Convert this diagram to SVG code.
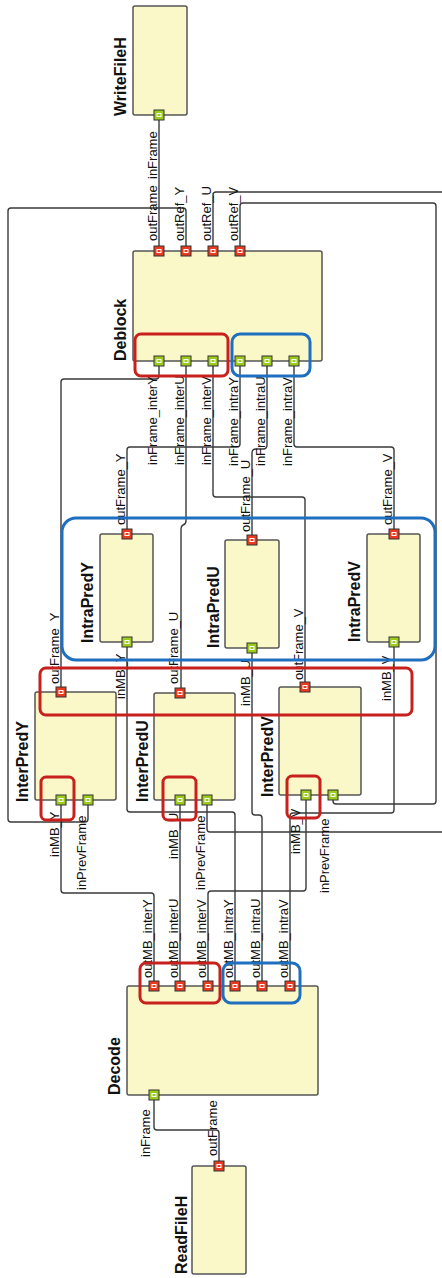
<svg xmlns="http://www.w3.org/2000/svg" width="442" height="1278" viewBox="0 0 442 1278">
<style>
.bg{fill:#ffffff}
.node{fill:#faf7c9;stroke:#555;stroke-width:1.5}
.title{font-family:"Liberation Sans",Arial,sans-serif;font-size:16px;font-weight:bold;fill:#111}
.pl{font-family:"Liberation Sans",Arial,sans-serif;font-size:13px;fill:#111}
.pin{fill:#9bcb1c;stroke:#333;stroke-width:1}
.pout{fill:#e83b1f;stroke:#333;stroke-width:1}
.mark{fill:none;stroke:#fff;stroke-width:1}
.wire{fill:none;stroke:#3a3a3a;stroke-width:1.4;stroke-linejoin:round}
.hr{fill:none;stroke:#c8201c;stroke-width:3}
.hb{fill:none;stroke:#1f6fc0;stroke-width:3}
</style>
<defs>
<g id="inport"><rect class="pin" x="-5" y="-5" width="10" height="10"/><rect class="mark" x="-2" y="-1.5" width="4" height="3"/></g>
<g id="outport"><rect class="pout" x="-5" y="-5" width="10" height="10"/><rect class="mark" x="-2" y="-1.5" width="4" height="3"/></g>
</defs>
<rect class="bg" x="0" y="0" width="442" height="1278"/>

<g id="connectors">
<path class="wire" d="M219,1166 V1133 Q219,1130 216,1130 H157 Q154,1130 154,1127 V1095"/>
<path class="wire" d="M159,251 V115"/>
<path class="wire" d="M186,251 V211 Q186,208 183,208 H11 Q8,208 8,211 V819 Q8,822 11,822 H85 Q88,822 88,819 V800"/>
<path class="wire" d="M213,251 V195 Q213,192 216,192 H442"/>
<path class="wire" d="M442,832 H210 Q207,832 207,829 V800"/>
<path class="wire" d="M240,251 V206 Q240,203 243,203 H433 Q436,203 436,206 V801 Q436,804 433,804 H336 Q333,804 333,801 V795"/>
<path class="wire" d="M154,986 V896 Q154,893 151,893 H64 Q61,893 61,890 V800"/>
<path class="wire" d="M180,986 V800"/>
<path class="wire" d="M208,986 V894 Q208,891 211,891 H303 Q306,891 306,888 V795"/>
<path class="wire" d="M235,986 V815 Q235,812 232,812 H130 Q127,812 127,809 V642"/>
<path class="wire" d="M262,986 V818 Q262,815 259,815 H255 Q252,815 252,812 V648"/>
<path class="wire" d="M290,986 V816 Q290,813 293,813 H391 Q394,813 394,810 V642"/>
<path class="wire" d="M159,361 V376 Q159,379 156,379 H64 Q61,379 61,382 V692"/>
<path class="wire" d="M186,361 V521 Q186,524 183,525 Q181,526 181,529 V693"/>
<path class="wire" d="M213,361 V494 Q213,497 216,497 H302 Q305,497 305,500 V687"/>
<path class="wire" d="M240,361 V444 Q240,447 237,447 H130 Q127,447 127,450 V534"/>
<path class="wire" d="M267,361 V445 Q267,449 263,449 H256 Q252,449 252,453 V540"/>
<path class="wire" d="M294,361 V444 Q294,447 297,447 H391 Q394,447 394,450 V534"/>
</g>

<g id="WriteFileH">
<rect class="node" x="133" y="6" width="54" height="109" rx="2"/>
<text class="title" transform="translate(126,116) rotate(-90)">WriteFileH</text>
<use href="#inport" x="159" y="115"/>
<text class="pl" transform="translate(157,179) rotate(-90)">inFrame</text>
</g>

<g id="Deblock">
<rect class="node" x="133" y="251" width="189" height="110" rx="2"/>
<text class="title" transform="translate(126,361) rotate(-90)">Deblock</text>
<use href="#outport" x="159" y="251"/>
<use href="#outport" x="186" y="251"/>
<use href="#outport" x="213" y="251"/>
<use href="#outport" x="240" y="251"/>
<use href="#inport" x="159" y="361"/>
<use href="#inport" x="186" y="361"/>
<use href="#inport" x="213" y="361"/>
<use href="#inport" x="240" y="361"/>
<use href="#inport" x="267" y="361"/>
<use href="#inport" x="294" y="361"/>
<text class="pl" transform="translate(157,241) rotate(-90)">outFrame</text>
<text class="pl" transform="translate(184,241) rotate(-90)">outRef_Y</text>
<text class="pl" transform="translate(211,241) rotate(-90)">outRef_U</text>
<text class="pl" transform="translate(238,241) rotate(-90)">outRef_V</text>
<text class="pl" transform="translate(157,465) rotate(-90)">inFrame_interY</text>
<text class="pl" transform="translate(184,465) rotate(-90)">inFrame_interU</text>
<text class="pl" transform="translate(211,465) rotate(-90)">inFrame_interV</text>
<text class="pl" transform="translate(238,466) rotate(-90)">inFrame_intraY</text>
<text class="pl" transform="translate(265,466) rotate(-90)">inFrame_intraU</text>
<text class="pl" transform="translate(292,466) rotate(-90)">inFrame_intraV</text>
</g>

<g id="IntraPredY">
<rect class="node" x="100" y="534" width="53" height="108" rx="2"/>
<text class="title" transform="translate(93,643) rotate(-90)">IntraPredY</text>
<use href="#outport" x="127" y="534"/>
<use href="#inport" x="127" y="642"/>
<text class="pl" transform="translate(125,525) rotate(-90)">outFrame_Y</text>
<text class="pl" transform="translate(125,699) rotate(-90)">inMB_Y</text>
</g>

<g id="IntraPredU">
<rect class="node" x="225" y="540" width="54" height="108" rx="2"/>
<text class="title" transform="translate(219,648) rotate(-90)">IntraPredU</text>
<use href="#outport" x="252" y="540"/>
<use href="#inport" x="252" y="648"/>
<text class="pl" transform="translate(250,532) rotate(-90)">outFrame_U</text>
<text class="pl" transform="translate(250,706) rotate(-90)">inMB_U</text>
</g>

<g id="IntraPredV">
<rect class="node" x="367" y="534" width="53" height="108" rx="2"/>
<text class="title" transform="translate(360,642) rotate(-90)">IntraPredV</text>
<use href="#outport" x="394" y="534"/>
<use href="#inport" x="394" y="642"/>
<text class="pl" transform="translate(392,525) rotate(-90)">outFrame_V</text>
<text class="pl" transform="translate(391,701) rotate(-90)">inMB_V</text>
</g>

<g id="InterPredY">
<rect class="node" x="35" y="692" width="81" height="108" rx="2"/>
<text class="title" transform="translate(28,802) rotate(-90)">InterPredY</text>
<use href="#outport" x="61" y="692"/>
<use href="#inport" x="61" y="800"/>
<use href="#inport" x="88" y="800"/>
<text class="pl" transform="translate(59,684) rotate(-90)">outFrame_Y</text>
<text class="pl" transform="translate(59,857) rotate(-90)">inMB_Y</text>
<text class="pl" transform="translate(86,890) rotate(-90)">inPrevFrame</text>
</g>

<g id="InterPredU">
<rect class="node" x="154" y="693" width="81" height="107" rx="2"/>
<text class="title" transform="translate(148,802) rotate(-90)">InterPredU</text>
<use href="#outport" x="180" y="693"/>
<use href="#inport" x="180" y="800"/>
<use href="#inport" x="207" y="800"/>
<text class="pl" transform="translate(178,684) rotate(-90)">outFrame_U</text>
<text class="pl" transform="translate(178,859) rotate(-90)">inMB_U</text>
<text class="pl" transform="translate(205,890) rotate(-90)">inPrevFrame</text>
</g>

<g id="InterPredV">
<rect class="node" x="279" y="687" width="82" height="108" rx="2"/>
<text class="title" transform="translate(273,797) rotate(-90)">InterPredV</text>
<use href="#outport" x="305" y="687"/>
<use href="#inport" x="306" y="795"/>
<use href="#inport" x="333" y="795"/>
<text class="pl" transform="translate(303,680) rotate(-90)">outFrame_V</text>
<text class="pl" transform="translate(300,854) rotate(-90)">inMB_V</text>
<text class="pl" transform="translate(329,893) rotate(-90)">inPrevFrame</text>
</g>

<g id="Decode">
<rect class="node" x="127" y="986" width="191" height="109" rx="2"/>
<text class="title" transform="translate(120,1095) rotate(-90)">Decode</text>
<use href="#outport" x="154" y="986"/>
<use href="#outport" x="180" y="986"/>
<use href="#outport" x="208" y="986"/>
<use href="#outport" x="235" y="986"/>
<use href="#outport" x="262" y="986"/>
<use href="#outport" x="290" y="986"/>
<use href="#inport" x="154" y="1095"/>
<text class="pl" transform="translate(152,978) rotate(-90)">outMB_interY</text>
<text class="pl" transform="translate(178,978) rotate(-90)">outMB_interU</text>
<text class="pl" transform="translate(206,978) rotate(-90)">outMB_interV</text>
<text class="pl" transform="translate(233,978) rotate(-90)">outMB_intraY</text>
<text class="pl" transform="translate(260,978) rotate(-90)">outMB_intraU</text>
<text class="pl" transform="translate(288,978) rotate(-90)">outMB_intraV</text>
<text class="pl" transform="translate(150,1157) rotate(-90)">inFrame</text>
</g>

<g id="ReadFileH">
<rect class="node" x="192" y="1166" width="54" height="108" rx="2"/>
<text class="title" transform="translate(187,1274) rotate(-90)">ReadFileH</text>
<use href="#outport" x="219" y="1166"/>
<text class="pl" transform="translate(217,1156) rotate(-90)">outFrame</text>
</g>

<g id="highlights">
<rect class="hr" x="135" y="334" width="93" height="42" rx="6"/>
<rect class="hb" x="232" y="334" width="78" height="42" rx="8"/>
<rect class="hb" x="62" y="518" width="373" height="142" rx="14"/>
<rect class="hr" x="40" y="668" width="372" height="47" rx="6"/>
<rect class="hr" x="41" y="777" width="33" height="43" rx="5"/>
<rect class="hr" x="163" y="777" width="33" height="43" rx="5"/>
<rect class="hr" x="287" y="776" width="33" height="42" rx="5"/>
<rect class="hr" x="140" y="963" width="80" height="40" rx="6"/>
<rect class="hb" x="223" y="963" width="77" height="40" rx="8"/>
</g>
</svg>
